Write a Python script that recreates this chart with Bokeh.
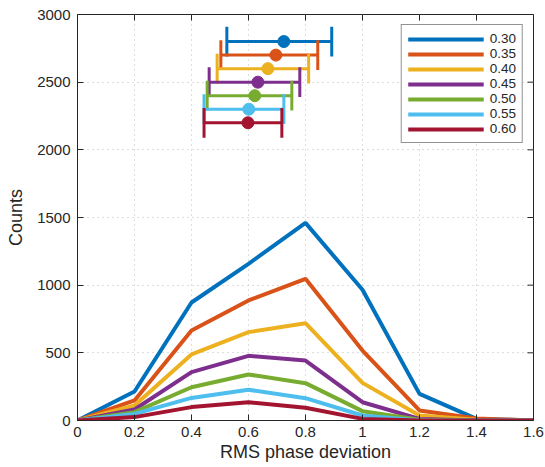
import math
from bokeh.plotting import figure
from bokeh.models import Range1d, Legend, LegendItem, FixedTicker
from bokeh.embed import file_html
from bokeh.resources import INLINE

x_vals = [0, 0.2, 0.4, 0.6, 0.8, 1.0, 1.2, 1.4, 1.6]
labels = ["0.30", "0.35", "0.40", "0.45", "0.50", "0.55", "0.60"]
colors = ["#0072BD", "#D95319", "#EDB120", "#7E2F8E", "#77AC30", "#4DBEEE", "#A2142F"]
counts = [
    [0, 214, 872, 1158, 1460, 966, 197, 12, 0],
    [0, 148, 665, 887, 1047, 517, 74, 15, 0],
    [0, 111, 488, 653, 719, 278, 37, 5, 0],
    [0, 81, 357, 478, 443, 135, 12, 0, 0],
    [0, 62, 246, 340, 276, 69, 5, 0, 0],
    [0, 49, 167, 227, 165, 37, 0, 0, 0],
    [0, 25, 99, 135, 94, 12, 0, 0, 0],
]
err_y = [2800, 2700, 2600, 2500, 2400, 2300, 2200]
err_mean = [0.724, 0.696, 0.668, 0.633, 0.622, 0.601, 0.598]
err_lo = [0.524, 0.503, 0.490, 0.462, 0.455, 0.444, 0.444]
err_hi = [0.892, 0.843, 0.811, 0.780, 0.752, 0.724, 0.717]
x_ticks = [0, 0.2, 0.4, 0.6, 0.8, 1.0, 1.2, 1.4, 1.6]
y_ticks = [0, 500, 1000, 1500, 2000, 2500, 3000]
x_min, x_max = 0, 1.6
y_min, y_max = 0, 3000

FONT = "Liberation Sans"
TXT = "#262626"

p = figure(width=545, height=467, output_backend="svg", toolbar_location=None,
           x_range=Range1d(x_min, x_max), y_range=Range1d(y_min, y_max),
           min_border_left=77, min_border_right=12, min_border_top=14, min_border_bottom=47)

p.outline_line_color = TXT
p.outline_line_alpha = 1
p.outline_line_width = 1

for ax, lab in ((p.xaxis[0], "RMS phase deviation"), (p.yaxis[0], "Counts")):
    ax.axis_label = lab
    ax.axis_label_text_font = FONT
    ax.axis_label_text_font_style = "normal"
    ax.axis_label_text_font_size = "18px"
    ax.axis_label_text_color = TXT
    ax.major_label_text_font = FONT
    ax.major_label_text_font_size = "15px"
    ax.major_label_text_color = TXT
    ax.major_tick_in = 6
    ax.major_tick_out = 0
    ax.minor_tick_in = 0
    ax.minor_tick_out = 0
    ax.axis_line_color = TXT
    ax.major_tick_line_color = TXT

p.xaxis.ticker = FixedTicker(ticks=x_ticks)
p.yaxis.ticker = FixedTicker(ticks=y_ticks)
p.xaxis.major_label_overrides = {0: "0", 0.2: "0.2", 0.4: "0.4", 0.6: "0.6", 0.8: "0.8",
                                 1.0: "1", 1.2: "1.2", 1.4: "1.4", 1.6: "1.6"}
p.xaxis[0].axis_label_standoff = 2
p.yaxis[0].axis_label_standoff = 8
p.xaxis[0].major_label_standoff = 6
p.yaxis[0].major_label_standoff = 7

p.xgrid.ticker = FixedTicker(ticks=x_ticks)
p.ygrid.ticker = FixedTicker(ticks=y_ticks)
for g in (p.xgrid[0], p.ygrid[0]):
    g.grid_line_color = "#bdbdbd"
    g.grid_line_dash = "1 4"
    g.grid_line_width = 1

# box ticks on the right and top edges (half of each dash is clipped by the frame)
p.scatter([x_max] * len(y_ticks), y_ticks, marker="dash", size=12, line_color=TXT, line_width=1)
p.scatter(x_ticks, [y_max] * len(x_ticks), marker="dash", size=12, angle=math.pi / 2,
          line_color=TXT, line_width=1)

items = []
for i in range(len(labels)):
    r = p.line(x_vals, counts[i], line_color=colors[i], line_width=4)
    items.append(LegendItem(label=labels[i], renderers=[r]))

cap = 110
for i in range(len(labels)):
    c = colors[i]
    p.segment(x0=[err_lo[i]], y0=[err_y[i]], x1=[err_hi[i]], y1=[err_y[i]], line_color=c, line_width=3)
    p.segment(x0=[err_lo[i], err_hi[i]], y0=[err_y[i] - cap, err_y[i] - cap],
              x1=[err_lo[i], err_hi[i]], y1=[err_y[i] + cap, err_y[i] + cap],
              line_color=c, line_width=3)
    p.scatter([err_mean[i]], [err_y[i]], size=12, fill_color=c, line_color=c)

legend = Legend(items=items, location="top_right")
legend.label_text_font = FONT
legend.label_text_font_size = "13.5px"
legend.label_text_color = TXT
legend.glyph_width = 76
legend.glyph_height = 14
legend.label_height = 14
legend.spacing = 0
legend.padding = 6
legend.margin = 10
legend.label_standoff = 6
legend.border_line_color = TXT
legend.border_line_width = 1
legend.background_fill_alpha = 1
p.add_layout(legend)

open("out.html", "w").write(file_html(p, INLINE))
